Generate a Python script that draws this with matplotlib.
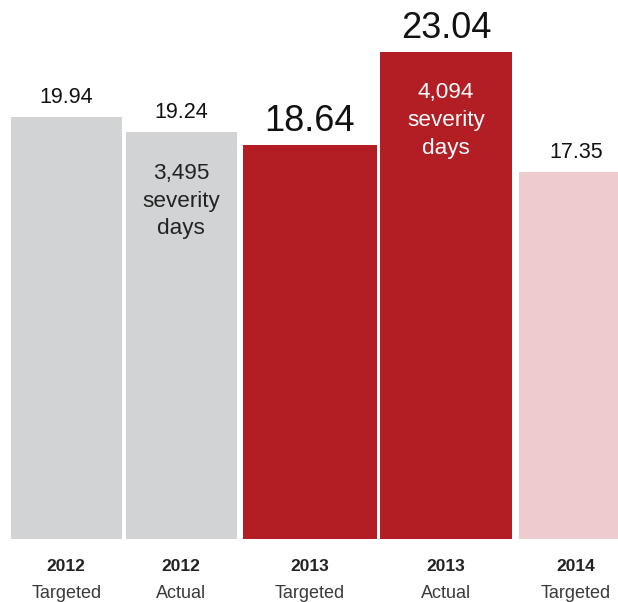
import matplotlib
matplotlib.use("Agg")
import matplotlib.pyplot as plt
import matplotlib.transforms as mtransforms
import numpy as np

# ---- data ----
years = ["2012", "2012", "2013", "2013", "2014"]
kinds = ["Targeted", "Actual", "Targeted", "Actual", "Targeted"]
values = [19.94, 19.24, 18.64, 23.04, 17.35]
value_labels = ["19.94", "19.24", "18.64", "23.04", "17.35"]
inner_labels = ["", "3,495\nseverity\ndays", "", "4,094\nseverity\ndays", ""]

# ---- layout / style ----
W, H = 618, 602
bar_widths = [111.5, 111.5, 133.7, 132.0, 114.0]
bar_gaps = [3.5, 6.0, 3.3, 7.0]
left_margin = 10.5
lefts = [left_margin]
for w, g in zip(bar_widths[:-1], bar_gaps):
    lefts.append(lefts[-1] + w + g)
centers = [l + w / 2 for l, w in zip(lefts, bar_widths)]

grey = "#D1D3D4"
red = "#B31E25"
pink = "#EECBCE"
bar_colors = [grey, grey, red, red, pink]
label_sizes = [15.5, 15.5, 26, 26, 15.5]
inner_colors = ["#222222", "#222222", "#222222", "white", "#222222"]

plt.rcParams["font.family"] = ["Liberation Sans", "DejaVu Sans"]

fig = plt.figure(figsize=(W / 100, H / 100), dpi=100)
bottom_px = 63
ax = fig.add_axes([0, bottom_px / H, 1, (H - bottom_px) / H])
ax.set_xlim(0, W)
ax.set_ylim(0, 25.48)
ax.axis("off")

ax.bar(centers, values, width=bar_widths, color=bar_colors,
       edgecolor="none", align="center")

for c, v, lab, fs in zip(centers, values, value_labels, label_sizes):
    ax.annotate(lab, (c, v), xytext=(0, 10), textcoords="offset points",
                ha="center", va="baseline", fontsize=fs, color="#111111")

for c, v, lab, col in zip(centers, values, inner_labels, inner_colors):
    if not lab:
        continue
    for i, line in enumerate(lab.split("\n")):
        ax.annotate(line, (c, v), xytext=(0, -33.7 - 20.0 * i),
                    textcoords="offset points", ha="center", va="baseline",
                    fontsize=16.2, color=col)

trans = mtransforms.blended_transform_factory(ax.transData, fig.transFigure)
for c, y, k in zip(centers, years, kinds):
    ax.text(c, 31.3 / H, y, transform=trans, ha="center", va="baseline",
            fontsize=12.5, fontweight="bold", color="#222222")
    ax.text(c, 3.5 / H, k, transform=trans, ha="center", va="baseline",
            fontsize=13, color="#3a3a3a")

fig.savefig("out.png", dpi=100)
